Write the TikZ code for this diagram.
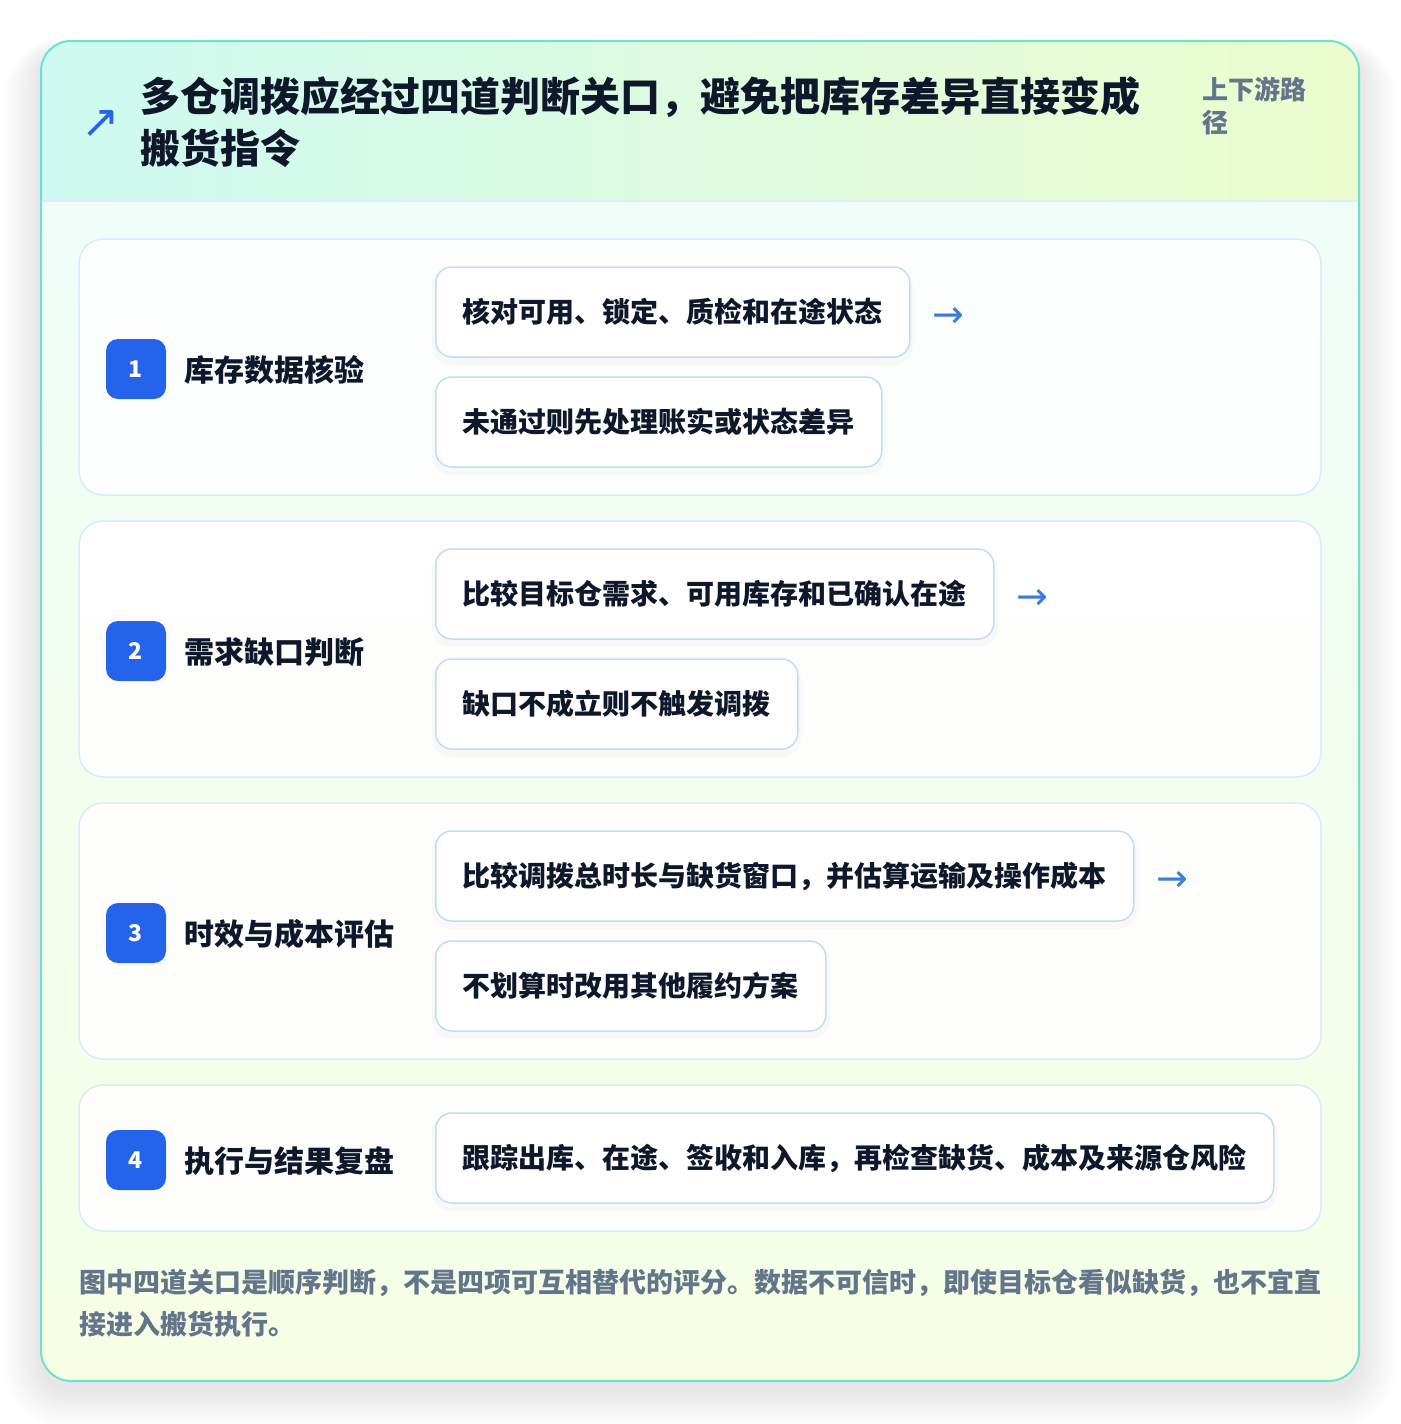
\documentclass[tikz,border=0pt]{standalone}
\usepackage{fontspec}
\setmainfont{Noto Sans CJK SC}
\newfontfamily\symfont{DejaVu Sans}
\usepackage{tikz}
\usetikzlibrary{positioning}

\definecolor{panelline}{HTML}{6EE2CF}
\definecolor{headleft}{HTML}{CEFAF1}
\definecolor{headright}{HTML}{ECFCCE}
\definecolor{bodytop}{HTML}{F0FDF9}
\definecolor{bodybot}{HTML}{F6FEE4}
\definecolor{headline}{HTML}{DCEEF8}
\definecolor{cardline}{HTML}{DBEAFE}
\definecolor{boxline}{HTML}{BFDBFE}
\definecolor{ink}{HTML}{0F172A}
\definecolor{muted}{HTML}{64748B}
\definecolor{badgeblue}{HTML}{2563EB}
\definecolor{arrowblue}{HTML}{3B7DDD}

\tikzset{
  card/.style={draw=cardline, line width=1.5pt, fill=white, fill opacity=0.85,
    rounded corners=24pt, minimum width=1242pt, inner sep=0pt},
  badge/.style={fill=badgeblue, rounded corners=12pt, minimum size=60pt, inner sep=0pt,
    text=white, font=\fontsize{23pt}{24pt}\selectfont\bfseries},
  steplabel/.style={anchor=west, inner sep=0pt, text=ink,
    font=\fontsize{30pt}{34pt}\selectfont\bfseries},
  itembox/.style={anchor=west, draw=boxline, line width=1.5pt, fill=white,
    rounded corners=16pt, minimum height=90pt, inner xsep=27pt, inner ysep=0pt,
    text=ink, font=\fontsize{28pt}{32pt}\selectfont\bfseries,
    preaction={draw=black, draw opacity=0.02, line width=8pt, transform canvas={yshift=-4pt}}},
  nextmark/.style={right=22pt of #1, yshift=-5pt, inner sep=0pt, text=arrowblue,
    font=\symfont\fontsize{38pt}{40pt}\selectfont},
}

\begin{document}
\begin{tikzpicture}[x=1pt, y=-1pt]
	\useasboundingbox (0,0) rectangle (1400,1424);
	\fill[white] (0,0) rectangle (1400,1424);

	% soft shadow of the panel
	\foreach \i [evaluate=\i as \r using 30+2*\i] in {1,...,12}
		\fill[black, opacity=0.007, rounded corners=\r pt] (41-\i*3, 41-\i+10) rectangle (1359+\i*3, 1381+\i*3+8);

	% panel
	\begin{scope}
		\clip[rounded corners=30pt] (41,41) rectangle (1359,1381);
		\shade[top color=bodytop, bottom color=bodybot] (41,201) rectangle (1359,1381);
		\shade[left color=headleft, right color=headright] (41,41) rectangle (1359,201);
		\draw[headline, line width=1.5pt] (41,201) -- (1359,201);
	\end{scope}
	\draw[panelline, line width=2pt, rounded corners=30pt] (41,41) rectangle (1359,1381);

	% header
	\node[text=badgeblue, font=\symfont\fontsize{46pt}{48pt}\selectfont, inner sep=0pt] (icon) at (101,124) {↗};
	\node[anchor=north west, inner sep=0pt, align=left, text=ink,
		font=\fontsize{40pt}{52pt}\selectfont\bfseries] (title) at (140,76)
		{多仓调拨应经过四道判断关口，避免把库存差异直接变成\\搬货指令};
	\node[anchor=north west, inner sep=0pt, align=left, text=muted,
		font=\fontsize{26pt}{33pt}\selectfont\bfseries] (scope) at (1202,77)
		{上下游路\\径};

	% step 1
	\node[card, minimum height=256pt] (card1) at (700,367) {};
	\node[badge] (b1) at (136,369) {1};
	\node[steplabel] (s1) at (184,370) {库存数据核验};
	\node[itembox] (c1a) at (435,312) {核对可用、锁定、质检和在途状态};
	\node[itembox] (c1b) at (435,422) {未通过则先处理账实或状态差异};
	\node[nextmark=c1a] (n1) {→};

	% step 2
	\node[card, minimum height=256pt] (card2) at (700,649) {};
	\node[badge] (b2) at (136,651) {2};
	\node[steplabel] (s2) at (184,652) {需求缺口判断};
	\node[itembox] (c2a) at (435,594) {比较目标仓需求、可用库存和已确认在途};
	\node[itembox] (c2b) at (435,704) {缺口不成立则不触发调拨};
	\node[nextmark=c2a] (n2) {→};

	% step 3
	\node[card, minimum height=256pt] (card3) at (700,931) {};
	\node[badge] (b3) at (136,933) {3};
	\node[steplabel] (s3) at (184,934) {时效与成本评估};
	\node[itembox] (c3a) at (435,876) {比较调拨总时长与缺货窗口，并估算运输及操作成本};
	\node[itembox] (c3b) at (435,986) {不划算时改用其他履约方案};
	\node[nextmark=c3a] (n3) {→};

	% step 4
	\node[card, minimum height=146pt] (card4) at (700,1158) {};
	\node[badge] (b4) at (136,1160) {4};
	\node[steplabel] (s4) at (184,1161) {执行与结果复盘};
	\node[itembox] (c4a) at (435,1158) {跟踪出库、在途、签收和入库，再检查缺货、成本及来源仓风险};

	% note
	\node[anchor=north west, inner sep=0pt, align=left, text=muted,
		font=\fontsize{27pt}{42pt}\selectfont\bfseries] (note) at (79,1269)
		{图中四道关口是顺序判断，不是四项可互相替代的评分。数据不可信时，即使目标仓看似缺货，也不宜直\\接进入搬货执行。};
\end{tikzpicture}
\end{document}
